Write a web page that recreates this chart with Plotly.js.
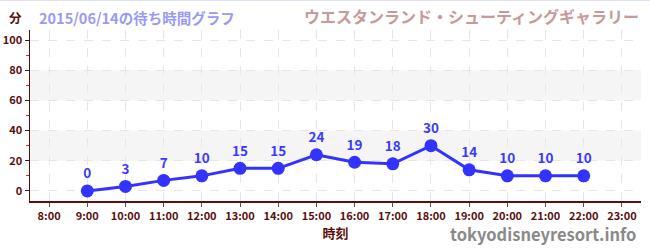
<!DOCTYPE html>
<html><head><meta charset="utf-8">
<script src="https://cdn.plot.ly/plotly-3.0.1.min.js"></script>
<style>body{margin:0;padding:0;background:#fff}#c{width:650px;height:250px;border-top:1px solid #e0e0f8;box-sizing:border-box}</style>
</head><body><div id="c"></div>
<script>
const hours = [9,10,11,12,13,14,15,16,17,18,19,20,21,22];
const waits = [0,3,7,10,15,15,24,19,18,30,14,10,10,10];
const tickVals = [8,9,10,11,12,13,14,15,16,17,18,19,20,21,22,23];
const tickText = ["8:00","9:00","10:00","11:00","12:00","13:00","14:00","15:00","16:00","17:00","18:00","19:00","20:00","21:00","22:00","23:00"];
const yTicks = [0,20,40,60,80,100];
const bands = [[20,40],[60,80]];
const F = '"Noto Sans CJK JP", "Noto Sans", sans-serif';
const brown = '#5a0f0f';
const shapes = bands.map(b => ({type:'rect', xref:'paper', x0:0, x1:1, yref:'y', y0:b[0], y1:b[1], fillcolor:'#f5f5f5', line:{width:0}, layer:'below'}));
const trace = {x:hours, y:waits, mode:'lines+markers+text', text:waits.map(String), textposition:'top center',
  textfont:{family:F, size:13.5, color:'#3a3aff', weight:700},
  line:{color:'#3333ff', width:3}, marker:{color:'#3333ff', size:13}, cliponaxis:false, hoverinfo:'none'};
const layout = {
  width:650, height:249, margin:{l:30, r:9, t:29, b:49},
  paper_bgcolor:'#fff', plot_bgcolor:'rgba(0,0,0,0)', showlegend:false,
  font:{family:F},
  xaxis:{range:[7.5,23.5], tickvals:tickVals, ticktext:tickText, tickfont:{family:F, size:11, color:brown, weight:700},
    showgrid:true, gridcolor:'#e6e6e6', griddash:'dash', gridwidth:1, zeroline:false,
    showline:true, linecolor:brown, linewidth:1.5, ticks:'outside', ticklen:4, tickcolor:'#555',
    title:{text:'時刻', font:{family:F, size:13, color:brown, weight:700}, standoff:2}},
  yaxis:{range:[-6.67,106.67], tickvals:yTicks, tickfont:{family:F, size:11, color:brown, weight:700},
    showgrid:true, gridcolor:'#e6e6e6', griddash:'dash', zeroline:false,
    showline:true, linecolor:brown, linewidth:1.5, ticks:'outside', ticklen:4, tickcolor:'#222',
    minor:{tickvals:[10,30,50,70,90], ticks:'outside', ticklen:3, tickcolor:'#dd2222', showgrid:false}},
  shapes:shapes,
  annotations:[
    {xref:'paper', yref:'paper', x:-0.038, y:1.076, xanchor:'left', yanchor:'middle', text:'分', showarrow:false, font:{family:F, size:12.5, color:brown, weight:700}},
    {xref:'paper', yref:'paper', x:0.012, y:1.076, xanchor:'left', yanchor:'middle', text:'2015/06/14の待ち時間グラフ', showarrow:false, font:{family:F, size:14.5, color:'#9a9af5', weight:700}},
    {xref:'paper', yref:'paper', x:1.0, y:1.08, xanchor:'right', yanchor:'middle', text:'ウエスタンランド・シューティングギャラリー', showarrow:false, font:{family:F, size:16, color:'#c99898', weight:700}},
    {xref:'paper', yref:'paper', x:0.995, y:-0.195, xanchor:'right', yanchor:'middle', text:'tokyodisneyresort.info', showarrow:false, font:{family:F, size:16.5, color:'#8a8a8a', weight:700}}
  ]
};
Plotly.newPlot('c', [trace], layout, {staticPlot:true});
</script></body></html>
